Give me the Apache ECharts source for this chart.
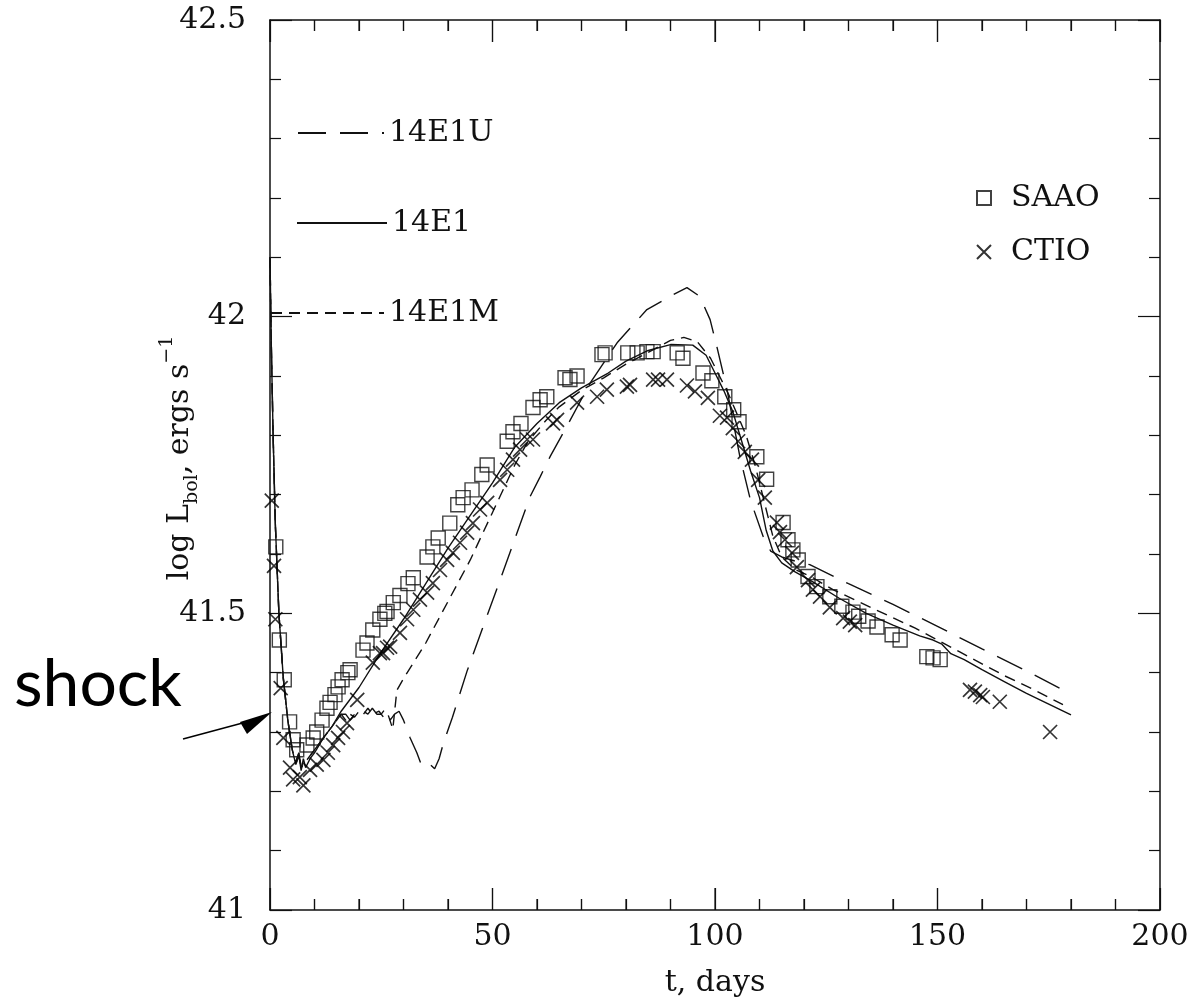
<!DOCTYPE html>
<html>
<head>
<meta charset="utf-8">
<script src="https://cdn.jsdelivr.net/npm/echarts/dist/echarts.min.js"></script>
<style>
html,body{margin:0;padding:0;background:#fff}
#main{width:1199px;height:1006px}
</style>
</head>
<body>
<div id="main"></div>
<script>
// observed points: [t days, log L]
var saao=[[1.3,41.612],[2.1,41.455],[3.2,41.388],[4.4,41.317],[5.2,41.287],[6.0,41.27],[8.3,41.278],[9.7,41.29],[10.5,41.30],[11.7,41.32],[12.8,41.34],[13.5,41.35],[14.6,41.363],[15.3,41.376],[16.2,41.388],[17.5,41.40],[18.0,41.405],[20.9,41.438],[21.8,41.45],[23.1,41.472],[24.7,41.49],[25.8,41.50],[26.3,41.503],[27.7,41.518],[29.2,41.53],[31.0,41.55],[32.2,41.56],[35.3,41.595],[36.6,41.612],[37.8,41.627],[40.4,41.652],[42.2,41.683],[43.4,41.695],[45.4,41.708],[47.6,41.734],[48.8,41.75],[53.3,41.79],[54.6,41.806],[56.4,41.82],[59.1,41.847],[60.7,41.86],[62.2,41.865],[66.3,41.897],[67.4,41.894],[69.0,41.90],[74.6,41.936],[75.3,41.939],[80.4,41.939],[82.5,41.939],[84.7,41.941],[86.1,41.941],[91.5,41.939],[92.8,41.93],[97.3,41.905],[99.3,41.892],[102.2,41.865],[104.2,41.843],[105.4,41.823],[109.4,41.764],[111.6,41.726],[115.3,41.653],[116.4,41.624],[117.5,41.607],[118.7,41.59],[120.9,41.562],[122.9,41.545],[125.8,41.528],[128.5,41.512],[131.0,41.502],[132.3,41.495],[134.4,41.487],[136.4,41.477],[139.8,41.464],[141.6,41.455],[147.6,41.427],[149.0,41.425],[150.6,41.422]];
var ctio=[[0.4,41.69],[0.9,41.58],[1.2,41.49],[2.4,41.374],[3.0,41.29],[4.5,41.24],[5.2,41.22],[6.7,41.224],[7.5,41.21],[9.0,41.236],[10.5,41.245],[12.0,41.253],[13.0,41.265],[14.2,41.278],[15.3,41.29],[16.4,41.30],[17.3,41.315],[19.6,41.354],[23.1,41.417],[24.7,41.433],[25.4,41.433],[26.3,41.442],[27.0,41.444],[29.2,41.467],[30.8,41.49],[32.2,41.506],[33.7,41.523],[35.3,41.535],[36.6,41.551],[38.2,41.573],[39.8,41.59],[41.1,41.602],[42.7,41.619],[44.3,41.636],[45.6,41.652],[47.2,41.675],[48.8,41.686],[51.7,41.725],[53.3,41.742],[54.6,41.759],[56.2,41.776],[57.8,41.793],[59.1,41.793],[63.6,41.82],[64.5,41.826],[69.0,41.855],[73.5,41.865],[75.7,41.877],[80.2,41.882],[80.9,41.885],[86.1,41.894],[87.2,41.894],[89.2,41.894],[93.7,41.884],[95.5,41.874],[98.4,41.863],[101.1,41.833],[102.7,41.83],[104.0,41.812],[105.2,41.79],[106.7,41.772],[108.3,41.759],[109.7,41.725],[111.2,41.695],[113.9,41.653],[114.6,41.637],[115.7,41.624],[117.3,41.602],[118.4,41.578],[120.9,41.556],[122.0,41.54],[123.6,41.528],[125.8,41.51],[128.8,41.492],[130.3,41.486],[131.5,41.48],[157.3,41.371],[158.4,41.368],[159.6,41.362],[160.2,41.359],[164.0,41.351],[175.3,41.30]];

// model light curves
var m14E1=[[0,42.1],[0.3,41.95],[0.7,41.8],[1.2,41.65],[2,41.5],[3,41.39],[4,41.32],[5,41.27],[5.8,41.245],[6.5,41.26],[7,41.235],[7.5,41.255],[8,41.24],[9,41.255],[10,41.265],[12,41.29],[14,41.31],[16,41.335],[20,41.375],[25,41.435],[30,41.49],[35,41.55],[40,41.61],[45,41.665],[50,41.72],[55,41.78],[60,41.82],[65,41.855],[70,41.88],[76,41.905],[80,41.925],[85,41.943],[90,41.953],[95,41.952],[98,41.935],[100,41.905],[102,41.875],[104,41.84],[106,41.79],[108,41.74],[110,41.695],[111.5,41.64],[113,41.605],[115,41.585],[118,41.57],[122,41.553],[128,41.525],[134,41.5],[140,41.48],[146,41.462],[149,41.455],[151,41.448],[153,41.432],[156,41.422],[160,41.405],[165,41.385],[170,41.365],[175,41.347],[180,41.329]];
var m14E1M=[[0,42.1],[0.3,41.95],[0.7,41.8],[1.2,41.65],[2,41.5],[3,41.39],[4,41.32],[5,41.27],[5.8,41.25],[6.5,41.265],[7,41.24],[8,41.25],[10,41.27],[12,41.29],[14,41.31],[16,41.33],[17,41.32],[18,41.33],[19,41.325],[20,41.335],[21,41.33],[22,41.34],[23,41.33],[24.5,41.335],[25.5,41.325],[26.5,41.33],[27.6,41.305],[28.5,41.37],[30,41.39],[35,41.45],[40,41.52],[45,41.59],[50,41.67],[55,41.75],[58,41.79],[62,41.825],[65,41.848],[70,41.876],[75,41.897],[80,41.92],[85,41.94],[90,41.96],[93,41.965],[96,41.958],[99,41.93],[101,41.9],[103,41.87],[105,41.835],[107,41.8],[109,41.75],[111,41.69],[113,41.63],[115,41.595],[118,41.574],[122,41.56],[126.5,41.54],[135,41.51],[145,41.475],[155,41.435],[165,41.395],[172,41.37],[178.2,41.346]];
var m14E1U=[[0,42.1],[0.3,41.95],[0.7,41.8],[1.2,41.65],[2,41.5],[3,41.39],[4,41.32],[5,41.27],[5.8,41.25],[6.5,41.265],[7,41.24],[8,41.25],[10,41.27],[12,41.29],[14,41.31],[16,41.33],[17,41.33],[18,41.32],[19,41.33],[20,41.325],[21,41.335],[22,41.33],[23,41.34],[24,41.33],[25,41.33],[26,41.34],[27,41.32],[28,41.33],[29,41.335],[30,41.32],[31.5,41.29],[33,41.265],[34,41.245],[35,41.24],[36,41.245],[37,41.238],[38,41.255],[39,41.282],[41,41.325],[44.3,41.403],[48,41.48],[51.7,41.556],[55,41.625],[58.4,41.696],[60.7,41.73],[63,41.765],[66.7,41.815],[72,41.889],[78,41.956],[84.7,42.012],[90.6,42.037],[93.7,42.049],[96.6,42.034],[98.9,41.995],[100.4,41.95],[102.7,41.877],[105.6,41.764],[108,41.69],[110.8,41.63],[112.5,41.605],[115,41.595],[118,41.588],[121.3,41.582],[130,41.55],[140,41.515],[150,41.478],[160,41.44],[170,41.403],[178.2,41.371]];

// x tick values (days); every 50 is a major tick
var xTicks=[0,10,20,30,40,50,60,70,80,90,100,110,120,130,140,150,160,170,180,190,200];

var serif='DejaVu Serif';
var ink='#111';
var fs=30;

// one side of the box frame, ticks pointing inward
function frameAxis(pos,min,max,interval,labels){
    return {
        type:'value',position:pos,min:min,max:max,interval:interval,
        axisLine:{show:true,onZero:false,lineStyle:{color:ink,width:1.5}},
        axisTick:{show:true,inside:true,length:22,lineStyle:{color:ink,width:1.2}},
        minorTick:{show:true,splitNumber:5,length:11,lineStyle:{color:ink,width:1.2}},
        splitLine:{show:false},
        axisLabel:{show:labels,fontFamily:serif,fontSize:fs,color:ink}
    };
}

var xb=frameAxis('bottom',0,200,50,true);
xb.axisLabel.margin=12;
var xt=frameAxis('top',0,200,50,false);
var yl=frameAxis('left',41,42.5,0.5,true);
yl.axisLabel.margin=24;
var yr=frameAxis('right',41,42.5,0.5,false);

var legText={fontFamily:serif,fontSize:fs,color:ink,lineHeight:30};
var noDot={color:'rgba(0,0,0,0)',borderWidth:0,opacity:0};

function model(name,data,dash){
    return {name:name,type:'line',data:data,symbol:'none',smooth:false,
        lineStyle:{color:ink,width:1.4,type:dash},itemStyle:{color:ink},
        emphasis:{disabled:true},z:3};
}

// x ticks drawn through the x scale, on the bottom and top edges
// (v6 dropped the x axis ticks in this layout)
function tickItem(params,api){
    var v=api.value(0);
    var x=api.coord([v,41])[0];
    var yb=api.coord([v,41])[1];
    var yt=api.coord([v,42.5])[1];
    var len=(v%50===0)?22:11;
    var st={stroke:ink,lineWidth:1.2};
    return {type:'group',children:[
        {type:'line',shape:{x1:x,y1:yb,x2:x,y2:yb-len},style:st},
        {type:'line',shape:{x1:x,y1:yt,x2:x,y2:yt+len},style:st}
    ]};
}

var option={
    backgroundColor:'#fff',
    animation:false,
    grid:{left:270,right:39,top:20,bottom:96},
    xAxis:[xb,xt],
    yAxis:[yl,yr],
    legend:[
        {data:['14E1U'],left:297,top:118,padding:0,itemWidth:86,itemHeight:14,selectedMode:false,itemStyle:noDot,textStyle:legText},
        {data:['14E1'],left:296,top:208,padding:0,itemWidth:90,itemHeight:14,selectedMode:false,itemStyle:noDot,textStyle:legText},
        {data:['14E1M'],left:270,top:298,padding:0,itemWidth:113,itemHeight:14,selectedMode:false,itemStyle:noDot,textStyle:legText},
        {data:['SAAO','CTIO'],orient:'vertical',left:976,top:183,padding:0,itemWidth:14,itemHeight:14,itemGap:24,selectedMode:false,
            textStyle:{fontFamily:serif,fontSize:fs,color:ink,lineHeight:30,padding:[0,0,0,15]}}
    ],
    series:[
        {name:'xticks',type:'custom',data:xTicks.map(function(v){return [v,41];}),
            encode:{x:0,y:1},renderItem:tickItem,clip:false,silent:true,z:2},
        model('14E1U',m14E1U,[28,14]),
        model('14E1',m14E1,'solid'),
        model('14E1M',m14E1M,[11,7]),
        {name:'SAAO',type:'scatter',data:saao,symbol:'rect',symbolSize:14,
            itemStyle:{color:'rgba(0,0,0,0)',borderColor:ink,borderWidth:1.4},emphasis:{disabled:true},z:4},
        {name:'CTIO',type:'scatter',data:ctio,symbol:'path://M0,0L10,10M10,0L0,10',symbolSize:14,
            itemStyle:{color:'rgba(0,0,0,0)',borderColor:'#000',borderWidth:1.7},emphasis:{disabled:true},z:4}
    ],
    graphic:[
        {type:'text',x:715,y:983,style:{text:'t, days',fontFamily:serif,fontSize:fs,fill:ink,align:'center',verticalAlign:'middle'}},
        {type:'text',x:180,y:458,rotation:Math.PI/2,style:{
            text:'{n|log L}{sub|bol}{n|, ergs s}{sup|\u22121}',align:'center',verticalAlign:'middle',
            rich:{
                n:{fontFamily:serif,fontSize:fs,fill:ink,lineHeight:44},
                sub:{fontFamily:serif,fontSize:19,fill:ink,verticalAlign:'bottom',lineHeight:20},
                sup:{fontFamily:serif,fontSize:19,fill:ink,verticalAlign:'top',lineHeight:20}
            }}},
        {type:'text',left:14,top:652,style:{text:'shock',fontFamily:'Lato',fontSize:66,fill:'#000'}},
        {type:'line',shape:{x1:183,y1:739,x2:250,y2:721},style:{stroke:'#000',lineWidth:1.5}},
        {type:'polygon',shape:{points:[[272,712],[240,722],[247,734]]},style:{fill:'#000'}}
    ]
};

var chart=echarts.init(document.getElementById('main'));
chart.setOption(option);
</script>
</body>
</html>
